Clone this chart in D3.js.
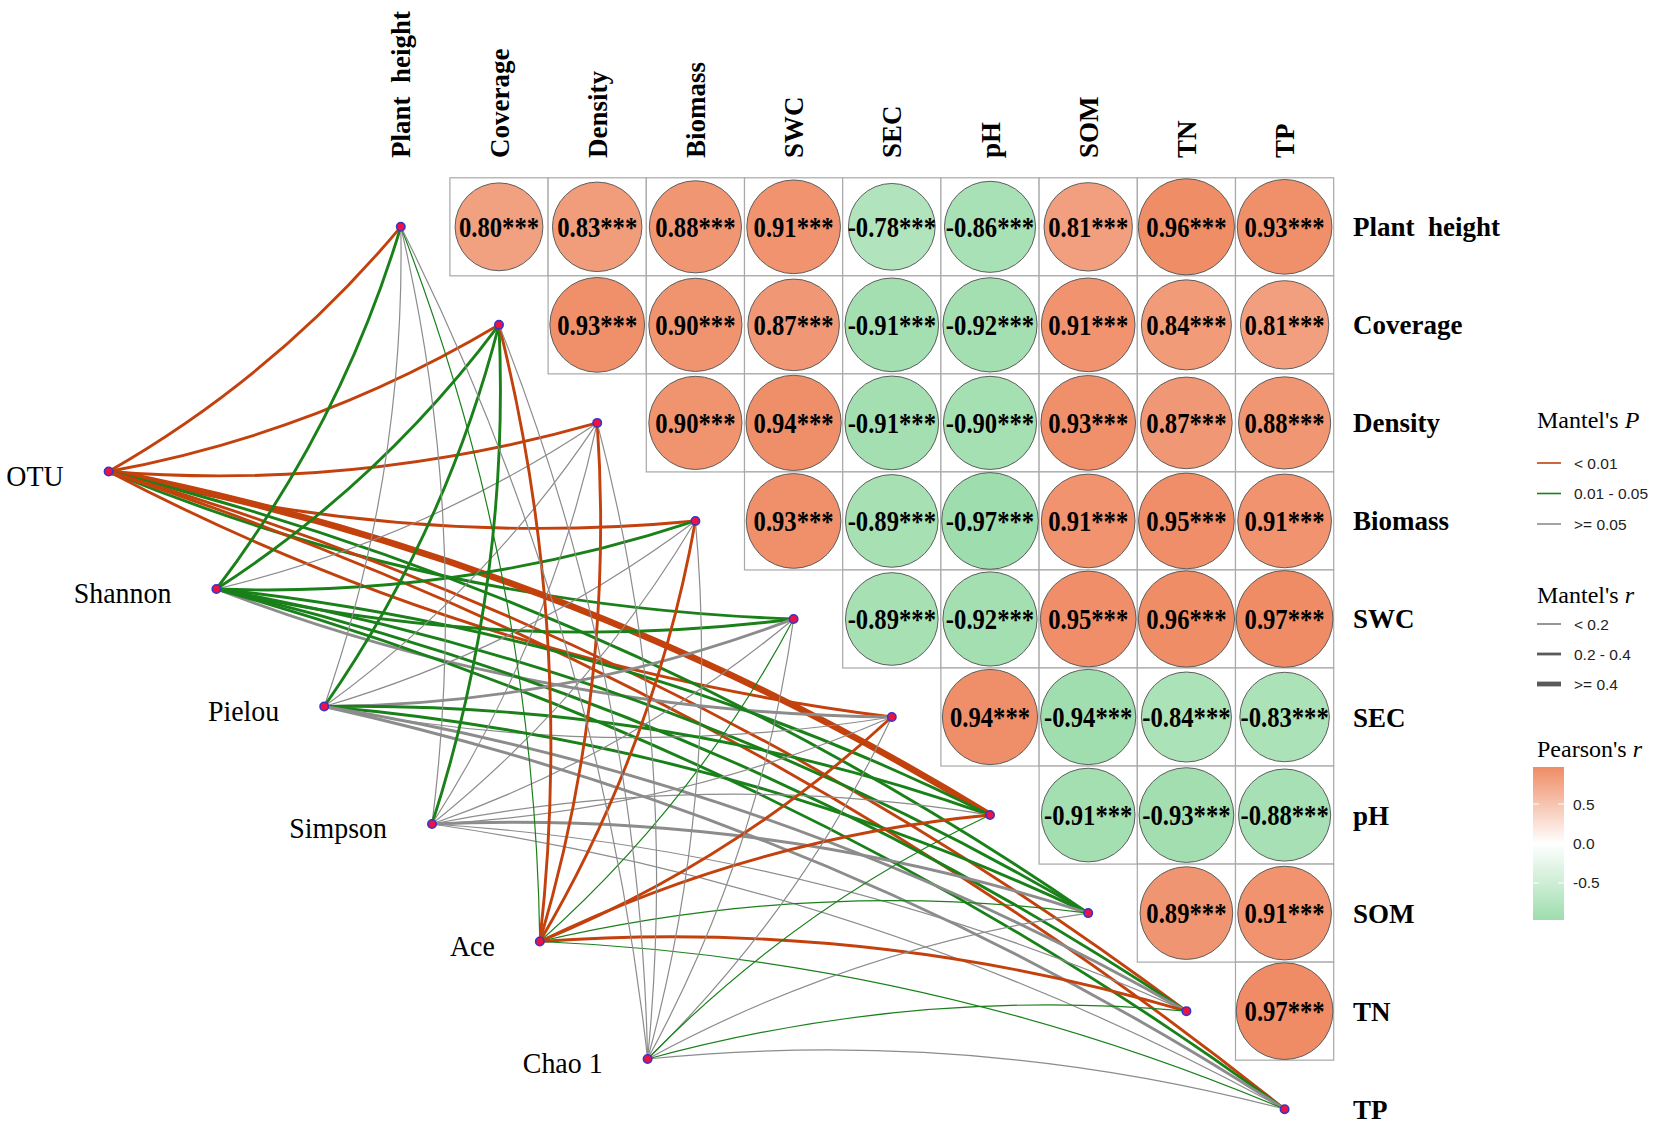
<!DOCTYPE html>
<html><head><meta charset="utf-8">
<script src="https://cdn.jsdelivr.net/npm/d3@7"></script>
<style>body{margin:0;background:#fff}</style>
</head><body>
<svg id="chart" width="1654" height="1127" xmlns="http://www.w3.org/2000/svg"></svg>
<script>
// ---------- DATA ----------
const envVars = ["Plant  height","Coverage","Density","Biomass","SWC","SEC","pH","SOM","TN","TP"];
// Pearson's r (upper triangle): row variable vs the variables that follow it
const rPlantHeight = [0.80, 0.83, 0.88, 0.91, -0.78, -0.86, 0.81, 0.96, 0.93];
const rCoverage    = [0.93, 0.90, 0.87, -0.91, -0.92, 0.91, 0.84, 0.81];
const rDensity     = [0.90, 0.94, -0.91, -0.90, 0.93, 0.87, 0.88];
const rBiomass     = [0.93, -0.89, -0.97, 0.91, 0.95, 0.91];
const rSWC         = [-0.89, -0.92, 0.95, 0.96, 0.97];
const rSEC         = [0.94, -0.94, -0.84, -0.83];
const rPHrow       = [-0.91, -0.93, -0.88];
const rSOM         = [0.89, 0.91];
const rTN          = [0.97];
const sigLabel = "***";

const sources = ["OTU","Shannon","Pielou","Simpson","Ace","Chao 1"];
const pLabels = ["< 0.01","0.01 - 0.05",">= 0.05"];
const rLabels = ["< 0.2","0.2 - 0.4",">= 0.4"];
// Mantel test classes per source vs envVars (P: 0 <0.01, 1 0.01-0.05, 2 >=0.05 ; r: 0 <0.2, 1 0.2-0.4, 2 >=0.4)
const pOTU     = [0,0,0,0,1,0,0,1,0,0];
const rOTU     = [1,1,1,1,1,1,2,1,1,1];
const pShannon = [1,1,2,1,1,2,1,1,1,1];
const rShannon = [1,1,0,1,1,1,1,1,1,1];
const pPielou  = [2,1,2,2,2,2,1,1,2,2];
const rPielou  = [0,1,0,0,1,0,1,1,1,1];
const pSimpson = [2,1,2,2,2,2,2,2,2,2];
const rSimpson = [0,1,0,0,0,0,0,1,0,0];
const pAce     = [1,0,0,0,1,0,0,1,0,1];
const rAce     = [0,1,1,1,0,1,1,0,1,0];
const pChao    = [2,2,2,2,2,2,1,2,1,2];
const rChao    = [0,0,0,0,0,0,0,0,0,0];

const corrRows = [rPlantHeight,rCoverage,rDensity,rBiomass,rSWC,rSEC,rPHrow,rSOM,rTN];
const pRows = [pOTU,pShannon,pPielou,pSimpson,pAce,pChao];
const rRows = [rOTU,rShannon,rPielou,rSimpson,rAce,rChao];

// ---------- STYLE ----------
const pColors = ["#C2410C","#1A801A","#8C8C8C"];
const rWidths = [1.2, 2.9, 6.6];
const serif = "'Liberation Serif','Times New Roman',serif";
const sans = "'Liberation Sans',Arial,sans-serif";

const svg = d3.select("#chart");

// ---------- SCALES ----------
const x = d3.scaleBand().domain(envVars).range([351.7, 1333.7]).padding(0);
const y = d3.scaleBand().domain(envVars).range([177.8, 1158.2]).padding(0);
const bw = x.bandwidth(), bh = y.bandwidth();
const color = d3.scaleLinear().domain([-1,0,1]).range(["#9BDCAA","#ffffff","#EE8860"]);
const radius = d3.scaleSqrt().domain([0,1]).range([0, bw/2]);
const srcX = d3.scaleLinear().domain([0, sources.length-1]).range([108.6, 647.6]);
const srcY = d3.scaleLinear().domain([0, sources.length-1]).range([471.5, 1059]);

// build cells
const cells = [];
corrRows.forEach((row,i)=>row.forEach((v,k)=>{
  cells.push({row: envVars[i], col: envVars[i+1+k], r: v});
}));

// build links
const links = [];
sources.forEach((s,si)=>{
  envVars.forEach((e,ei)=>{
    links.push({src: si, env: ei, p: pRows[si][ei], w: rRows[si][ei]});
  });
});

// ---------- HEATMAP ----------
const gCells = svg.append("g");
gCells.selectAll("rect").data(cells).join("rect")
  .attr("x", d=>x(d.col)).attr("y", d=>y(d.row))
  .attr("width", bw).attr("height", bh)
  .attr("fill","#fff").attr("stroke","#A8A8A8").attr("stroke-width",1.2);
gCells.selectAll("circle").data(cells).join("circle")
  .attr("cx", d=>x(d.col)+bw/2).attr("cy", d=>y(d.row)+bh/2)
  .attr("r", d=>radius(Math.abs(d.r)))
  .attr("fill", d=>color(d.r)).attr("stroke","#5e5e5e").attr("stroke-width",1);
gCells.selectAll("text").data(cells).join("text")
  .attr("transform", d=>`translate(${x(d.col)+bw/2},${y(d.row)+bh/2+9.8}) scale(0.85,1)`)
  .attr("text-anchor","middle")
  .attr("font-family", serif).attr("font-weight","bold").attr("font-size",29)
  .attr("fill","#000")
  .text(d=>d.r.toFixed(2)+sigLabel);

// top labels
svg.append("g").selectAll("text").data(envVars).join("text")
  .attr("transform", d=>`translate(${x(d)+bw/2+9.5},158) rotate(-90)`)
  .attr("xml:space","preserve").style("white-space","pre")
  .attr("font-family", serif).attr("font-weight","bold").attr("font-size",27)
  .text(d=>d);
// right labels
svg.append("g").selectAll("text").data(envVars).join("text")
  .attr("x", 1353).attr("y", d=>y(d)+bh/2+9.5)
  .attr("xml:space","preserve").style("white-space","pre")
  .attr("font-family", serif).attr("font-weight","bold").attr("font-size",27)
  .text(d=>d);

// ---------- LINKS ----------
const envPos = i => ({x: x(envVars[i])+bw/2, y: y(envVars[i])+bh/2});
const srcPos = i => ({x: srcX(i), y: srcY(i)});
const curv = 0.09;
function linkPath(d){
  const s = srcPos(d.src), t = envPos(d.env);
  const sign = d.env <= 5 ? 1 : -1;
  const dx = t.x - s.x, dy = t.y - s.y;
  const p = d3.path();
  p.moveTo(s.x, s.y);
  p.quadraticCurveTo((s.x+t.x)/2 - sign*curv*dy, (s.y+t.y)/2 + sign*curv*dx, t.x, t.y);
  return p.toString();
}
svg.append("g").selectAll("path").data(links).join("path")
  .attr("d", linkPath).attr("fill","none")
  .attr("stroke", d=>pColors[d.p]).attr("stroke-width", d=>rWidths[d.w])
  .attr("stroke-linecap","butt");

// nodes
const nodeR = 4.2;
svg.append("g").selectAll("circle").data(envVars.map((e,i)=>envPos(i))).join("circle")
  .attr("cx", d=>d.x).attr("cy", d=>d.y).attr("r", nodeR)
  .attr("fill","#EE1144").attr("stroke","#3535C8").attr("stroke-width",1.6);
svg.append("g").selectAll("circle").data(sources.map((s,i)=>srcPos(i))).join("circle")
  .attr("cx", d=>d.x).attr("cy", d=>d.y).attr("r", nodeR)
  .attr("fill","#EE1144").attr("stroke","#3535C8").attr("stroke-width",1.6);
// source labels
svg.append("g").selectAll("text").data(sources).join("text")
  .attr("transform", (d,i)=>`translate(${srcX(i)-45},${srcY(i)+14}) scale(0.93,1)`)
  .attr("text-anchor","end")
  .attr("font-family", serif).attr("font-size",30)
  .text(d=>d);

// ---------- LEGENDS ----------
const lg = svg.append("g");
const lx = 1537;
function title(yb, main, it){
  const t = lg.append("text").attr("x", lx).attr("y", yb)
    .attr("font-family", serif).attr("font-size",24).attr("fill","#000");
  t.append("tspan").text(main);
  t.append("tspan").attr("font-style","italic").text(it);
}
title(428, "Mantel's ", "P");
const pY = d3.scaleLinear().domain([0,2]).range([463, 524]);
pLabels.forEach((lab,i)=>{
  lg.append("line").attr("x1",lx).attr("x2",lx+24).attr("y1",pY(i)).attr("y2",pY(i))
    .attr("stroke",pColors[i]).attr("stroke-width",1.6);
  lg.append("text").attr("x",lx+37).attr("y",pY(i)+5.5).attr("font-family",sans)
    .attr("font-size",15.5).attr("fill","#222").text(lab);
});
title(603, "Mantel's ", "r");
const rY = d3.scaleLinear().domain([0,2]).range([624, 684]);
rLabels.forEach((lab,i)=>{
  lg.append("line").attr("x1",lx).attr("x2",lx+24).attr("y1",rY(i)).attr("y2",rY(i))
    .attr("stroke","#5a5a5a").attr("stroke-width",[1.3,2.8,4.8][i]);
  lg.append("text").attr("x",lx+37).attr("y",rY(i)+5.5).attr("font-family",sans)
    .attr("font-size",15.5).attr("fill","#222").text(lab);
});
title(757, "Pearson's ", "r");
// colour bar
const allR = cells.map(c=>c.r);
const ext = d3.extent(allR);
const barY = d3.scaleLinear().domain([ext[0], ext[1]]).range([920, 767]);
const defs = svg.append("defs");
const grad = defs.append("linearGradient").attr("id","pgrad")
  .attr("x1",0).attr("x2",0).attr("y1",1).attr("y2",0);
d3.range(0,1.0001,0.1).forEach(t=>{
  const v = ext[0] + t*(ext[1]-ext[0]);
  grad.append("stop").attr("offset", t).attr("stop-color", color(v));
});
lg.append("rect").attr("x",1533).attr("y",barY(ext[1])).attr("width",31)
  .attr("height", barY(ext[0])-barY(ext[1])).attr("fill","url(#pgrad)");
const barTicks = [0.5, 0.0, -0.5];
barTicks.forEach(v=>{
  lg.append("line").attr("x1",1533).attr("x2",1539).attr("y1",barY(v)).attr("y2",barY(v))
    .attr("stroke","#fff").attr("stroke-width",1);
  lg.append("line").attr("x1",1558).attr("x2",1564).attr("y1",barY(v)).attr("y2",barY(v))
    .attr("stroke","#fff").attr("stroke-width",1);
  lg.append("text").attr("x",1573).attr("y",barY(v)+5.5).attr("font-family",sans)
    .attr("font-size",15.5).attr("fill","#222").text(v.toFixed(1));
});
</script>
</body></html>
